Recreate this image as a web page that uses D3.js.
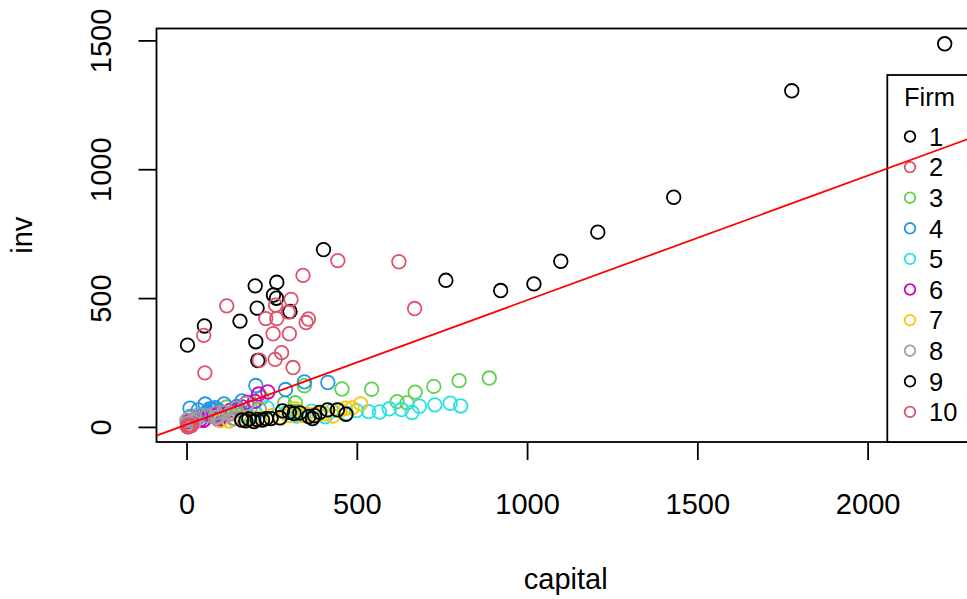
<!DOCTYPE html>
<html>
<head>
<meta charset="utf-8">
<script src="https://cdn.jsdelivr.net/npm/d3@7"></script>
<style>
  body { margin: 0; background: #fff; }
  text { font-family: "Liberation Sans", Arial, sans-serif; fill: #000; }
</style>
</head>
<body>
<script>
// Grunfeld data, one row per firm (years 1935-1954)
const firms = ["1", "2", "3", "4", "5", "6", "7", "8", "9", "10"];

const capital = [
  [2.8, 52.6, 156.9, 209.2, 203.4, 207.2, 255.2, 303.7, 264.1, 201.6, 265.0, 402.2, 761.5, 922.4, 1020.1, 1099.0, 1207.7, 1430.5, 1777.3, 2226.3],
  [53.8, 50.5, 118.1, 260.2, 312.7, 254.2, 261.4, 298.7, 301.8, 279.1, 213.8, 232.6, 264.8, 306.9, 351.1, 357.8, 342.1, 444.2, 623.6, 669.7],
  [97.8, 104.4, 118.0, 156.2, 172.6, 186.6, 220.9, 287.8, 319.9, 321.3, 319.6, 346.0, 456.4, 543.4, 618.3, 647.4, 671.3, 726.1, 800.3, 888.9],
  [10.5, 10.2, 34.7, 51.8, 64.3, 67.1, 75.2, 71.4, 67.1, 60.5, 54.6, 84.8, 96.8, 110.2, 147.4, 163.2, 203.5, 290.6, 346.1, 414.9],
  [183.2, 204.0, 236.0, 291.7, 323.1, 344.0, 367.7, 407.2, 426.6, 470.0, 499.2, 534.6, 566.6, 595.3, 631.4, 662.3, 683.9, 729.3, 774.3, 804.9],
  [6.5, 15.8, 27.7, 39.2, 48.6, 52.5, 61.5, 80.5, 94.4, 92.6, 92.3, 94.2, 111.4, 127.4, 149.3, 164.4, 177.2, 200.0, 211.5, 238.7],
  [100.2, 125.0, 142.4, 165.1, 194.8, 222.9, 252.1, 276.3, 300.3, 318.2, 336.2, 351.2, 373.6, 389.4, 406.7, 429.5, 450.6, 466.9, 486.2, 511.3],
  [1.8, 0.8, 7.4, 18.1, 23.5, 26.5, 36.2, 60.8, 84.4, 91.2, 92.4, 86.0, 111.1, 130.6, 141.8, 136.7, 129.7, 145.5, 174.8, 213.5],
  [162, 174, 183, 198, 208, 223, 234, 248, 274, 282, 316, 302, 333, 359, 370, 376, 391, 414, 443, 468],
  [4.50, 4.71, 4.57, 4.56, 4.38, 4.21, 4.12, 3.83, 3.58, 3.41, 3.31, 3.23, 3.90, 5.38, 7.39, 8.74, 9.07, 9.93, 11.68, 14.33]
];

const inv = [
  [317.6, 391.8, 410.6, 257.7, 330.8, 461.2, 512.0, 448.0, 499.6, 547.5, 561.2, 688.1, 568.9, 529.2, 555.1, 642.9, 755.9, 891.2, 1304.4, 1486.7],
  [209.9, 355.3, 469.9, 262.3, 230.4, 361.6, 472.8, 445.6, 361.6, 288.2, 258.7, 420.3, 420.5, 494.5, 405.1, 418.8, 588.2, 645.5, 641.0, 459.3],
  [33.1, 45.0, 77.2, 44.6, 48.1, 74.4, 113.0, 91.9, 61.3, 56.8, 93.6, 159.9, 147.2, 146.3, 98.3, 93.5, 135.2, 157.3, 179.5, 189.6],
  [40.29, 72.76, 66.26, 51.60, 52.41, 69.41, 68.35, 46.80, 47.40, 59.57, 88.78, 74.12, 62.68, 89.36, 78.98, 100.66, 160.62, 145.00, 174.93, 172.49],
  [39.68, 50.73, 74.24, 53.51, 42.65, 46.48, 61.40, 39.67, 62.24, 52.32, 63.21, 59.37, 58.02, 70.34, 67.42, 55.74, 80.30, 85.40, 91.90, 81.43],
  [20.36, 25.98, 25.94, 27.53, 24.60, 28.54, 43.41, 42.81, 27.84, 32.60, 39.03, 50.17, 51.85, 64.03, 68.16, 77.34, 95.30, 99.49, 127.52, 135.72],
  [24.43, 23.21, 32.78, 32.54, 26.65, 33.71, 43.50, 34.46, 44.28, 70.80, 44.12, 48.98, 48.51, 50.00, 50.59, 42.53, 64.77, 72.68, 73.86, 89.51],
  [12.93, 25.90, 35.05, 22.89, 18.84, 28.57, 48.51, 43.34, 37.02, 37.81, 39.27, 53.46, 55.56, 49.56, 32.04, 32.24, 54.38, 71.78, 90.08, 68.60],
  [26.63, 23.39, 30.65, 20.89, 28.78, 26.93, 32.08, 32.21, 35.69, 62.47, 52.32, 56.95, 54.32, 40.53, 32.54, 43.48, 56.49, 65.98, 66.11, 49.34],
  [2.54, 2.00, 2.19, 1.99, 2.03, 1.81, 2.14, 1.86, 0.93, 1.18, 1.36, 2.24, 3.81, 5.66, 4.21, 3.42, 4.67, 6.00, 6.53, 5.12]
];

const xTicks = [0, 500, 1000, 1500, 2000];
const yTicks = [0, 500, 1000, 1500];

// fitted line inv ~ capital
const fitIntercept = 8.8;
const fitSlope = 0.483;

// R default palette, recycled for firms 9 and 10
const palette = ["#000000", "#DF536B", "#61D04F", "#2297E6", "#28E2E5", "#CD0BBC", "#F5C710", "#9E9E9E"];

const w = 967, h = 599;
const plot = { left: 156.5, right: 975, top: 28.5, bottom: 442 };

// flatten into points
const points = [];
firms.forEach(function(f, i) {
  capital[i].forEach(function(c, j) {
    points.push({ firm: i, capital: c, inv: inv[i][j] });
  });
});

// R style 4% padding of the data range
function rRange(vals) {
  const ext = d3.extent(vals);
  const pad = (ext[1] - ext[0]) * 0.04;
  return [ext[0] - pad, ext[1] + pad];
}

const x = d3.scaleLinear()
  .domain(rRange(points.map(d => d.capital)))
  .range([plot.left, plot.right]);

const y = d3.scaleLinear()
  .domain(rRange(points.map(d => d.inv)))
  .range([plot.bottom, plot.top]);

const svg = d3.select("body")
  .append("svg")
  .attr("width", w)
  .attr("height", h);

svg.append("defs").append("clipPath")
  .attr("id", "plotclip")
  .append("rect")
  .attr("x", plot.left).attr("y", plot.top)
  .attr("width", plot.right - plot.left)
  .attr("height", plot.bottom - plot.top);

// points
svg.append("g")
  .selectAll("circle")
  .data(points)
  .enter()
  .append("circle")
  .attr("cx", d => x(d.capital))
  .attr("cy", d => y(d.inv))
  .attr("r", 6.8)
  .attr("fill", "none")
  .attr("stroke", d => palette[d.firm % palette.length])
  .attr("stroke-width", 1.8);

// box
svg.append("rect")
  .attr("x", plot.left).attr("y", plot.top)
  .attr("width", plot.right - plot.left)
  .attr("height", plot.bottom - plot.top)
  .attr("fill", "none")
  .attr("stroke", "#000")
  .attr("stroke-width", 1.8);

// x axis
const xAxis = d3.axisBottom(x)
  .tickValues(xTicks)
  .tickSize(18)
  .tickPadding(8)
  .tickFormat(d3.format("d"));

const gx = svg.append("g")
  .attr("transform", "translate(0," + plot.bottom + ")")
  .call(xAxis);
gx.select(".domain").remove();
gx.selectAll(".tick line").attr("stroke", "#000").attr("stroke-width", 1.8);
gx.selectAll(".tick text")
  .attr("y", 72)
  .attr("dy", null)
  .style("font-size", "29px")
  .style("font-family", "Liberation Sans, Arial, sans-serif");

// y axis
const yAxis = d3.axisLeft(y)
  .tickValues(yTicks)
  .tickSize(18)
  .tickFormat(d3.format("d"));

const gy = svg.append("g")
  .attr("transform", "translate(" + plot.left + ",0)")
  .call(yAxis);
gy.select(".domain").remove();
gy.selectAll(".tick line").attr("stroke", "#000").attr("stroke-width", 1.8);
gy.selectAll(".tick text")
  .attr("x", null)
  .attr("dy", null)
  .attr("text-anchor", "middle")
  .attr("transform", "translate(-46,0) rotate(-90)")
  .style("font-size", "29px")
  .style("font-family", "Liberation Sans, Arial, sans-serif");

// axis titles
svg.append("text")
  .attr("x", (plot.left + plot.right) / 2)
  .attr("y", 589)
  .attr("text-anchor", "middle")
  .style("font-size", "29px")
  .text("capital");

svg.append("text")
  .attr("transform", "translate(32," + ((plot.top + plot.bottom) / 2) + ") rotate(-90)")
  .attr("text-anchor", "middle")
  .style("font-size", "29px")
  .text("inv");

// legend
const legend = svg.append("g");
const legTop = 75, legLeft = 887.3, rowH = 30.6, firstRow = 136.5;

legend.append("rect")
  .attr("x", legLeft).attr("y", legTop)
  .attr("width", 120)
  .attr("height", firstRow + rowH * firms.length - legTop - 0.5)
  .attr("fill", "#fff")
  .attr("stroke", "#000")
  .attr("stroke-width", 1.8);

legend.append("text")
  .attr("x", 904)
  .attr("y", 105.7)
  .style("font-size", "25.5px")
  .text("Firm");

const rows = legend.selectAll(".row")
  .data(firms)
  .enter()
  .append("g")
  .attr("transform", (d, i) => "translate(0," + (firstRow + i * rowH) + ")");

rows.append("circle")
  .attr("cx", 910)
  .attr("cy", 0)
  .attr("r", 5.3)
  .attr("fill", "none")
  .attr("stroke", (d, i) => palette[i % palette.length])
  .attr("stroke-width", 1.8);

rows.append("text")
  .attr("x", 929)
  .attr("y", 9.2)
  .style("font-size", "25.5px")
  .text(d => d);

// regression line, drawn last over the legend, clipped to the plot
const xd = x.domain();
svg.append("line")
  .attr("clip-path", "url(#plotclip)")
  .attr("x1", x(xd[0])).attr("y1", y(fitIntercept + fitSlope * xd[0]))
  .attr("x2", x(xd[1])).attr("y2", y(fitIntercept + fitSlope * xd[1]))
  .attr("stroke", "#ff0000")
  .attr("stroke-width", 1.8);
</script>
</body>
</html>
